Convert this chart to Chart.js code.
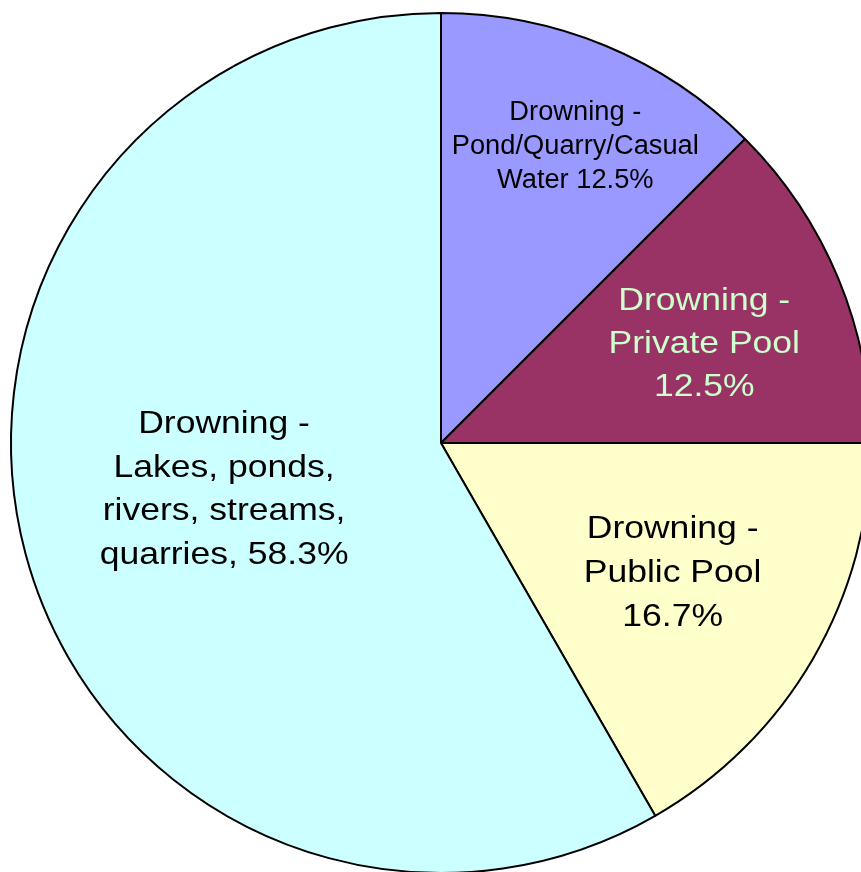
<!DOCTYPE html>
<html>
<head>
<meta charset="utf-8">
<script src="https://cdn.jsdelivr.net/npm/chart.js@4/dist/chart.umd.min.js"></script>
<style>
  html, body { margin: 0; padding: 0; background: #fff; overflow: hidden; }
  #wrap { position: absolute; left: 0; top: 0; width: 882px; height: 886px; }
</style>
</head>
<body>
<div id="wrap"><canvas id="myChart"></canvas></div>
<script>
// slices, clockwise from 12 o'clock
const categories = [
  ['Drowning -', 'Pond/Quarry/Casual', 'Water 12.5%'],
  ['Drowning -', 'Private Pool', '12.5%'],
  ['Drowning -', 'Public Pool', '16.7%'],
  ['Drowning -', 'Lakes, ponds,', 'rivers, streams,', 'quarries, 58.3%']
];
const values = [12.5, 12.5, 16.7, 58.3];
const sliceColors = ['#9999FF', '#993366', '#FFFFCC', '#CCFFFF'];

// label placement: fraction of radius, angle shift (deg), font px, line gap, x stretch, colour
const labelStyle = [
  { r: 0.756, da: 1.9, size: 27, gap: 34, sx: 1.01, color: '#000' },
  { r: 0.654, da: 1.9, size: 32, gap: 43, sx: 1.11, color: '#CCFFCC' },
  { r: 0.618, da: -0.7, size: 32, gap: 44, sx: 1.11, color: '#000' },
  { r: 0.516, da: 2.8, size: 32, gap: 43.5, sx: 1.11, color: '#000' }
];

const sliceLabels = {
  id: 'sliceLabels',
  afterDatasetsDraw(chart) {
    const ctx = chart.ctx;
    const arcs = chart.getDatasetMeta(0).data;
    arcs.forEach((arc, i) => {
      const st = labelStyle[i];
      const p = arc.getProps(['x', 'y', 'startAngle', 'endAngle', 'outerRadius'], true);
      const a = (p.startAngle + p.endAngle) / 2 + st.da * Math.PI / 180;
      const cx = p.x + Math.cos(a) * p.outerRadius * st.r;
      const cy = p.y + Math.sin(a) * p.outerRadius * st.r;
      const lines = categories[i];
      ctx.save();
      ctx.fillStyle = st.color;
      ctx.font = st.size + 'px "Liberation Sans", Arial, sans-serif';
      ctx.textAlign = 'center';
      ctx.textBaseline = 'middle';
      lines.forEach((t, k) => {
        const ly = cy + (k - (lines.length - 1) / 2) * st.gap;
        ctx.save();
        ctx.translate(cx, ly);
        ctx.scale(st.sx, 1);
        ctx.fillText(t, 0, 0);
        ctx.restore();
      });
      ctx.restore();
    });
  }
};

document.addEventListener("DOMContentLoaded", function(){
    const ctx = document.getElementById('myChart').getContext('2d');
    new Chart(ctx, {
        type: 'pie',
        data: {
            labels: categories.map(c => c.join(' ')),
            datasets: [{
                data: values,
                backgroundColor: sliceColors,
                borderColor: '#000',
                borderWidth: 2
            }]
        },
        options: {
            responsive: true,
            maintainAspectRatio: false,
            animation: false,
            layout: { padding: 10 },
            plugins: {
                legend: { display: false },
                tooltip: { enabled: false }
            }
        },
        plugins: [sliceLabels]
    });
});
</script>
</body>
</html>
